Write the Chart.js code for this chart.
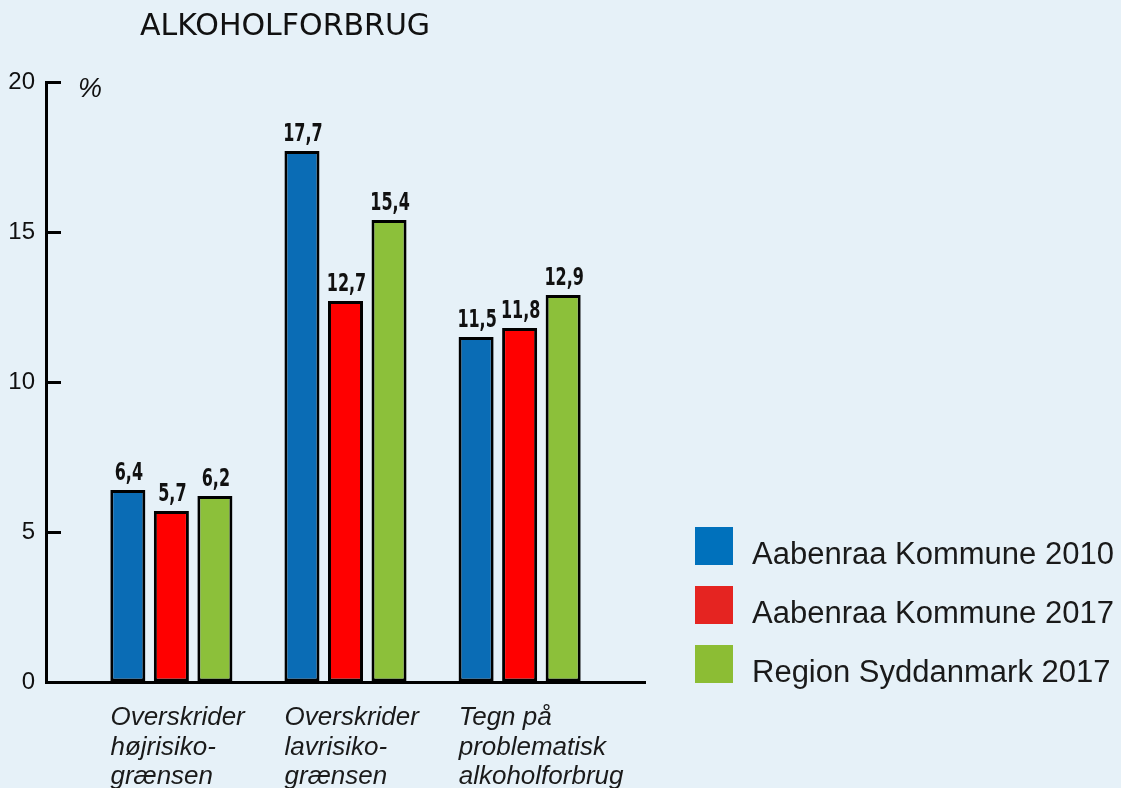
<!DOCTYPE html>
<html>
<head>
<meta charset="utf-8">
<title>Alkoholforbrug</title>
<script src="https://cdn.jsdelivr.net/npm/chart.js@4.4.1/dist/chart.umd.min.js"></script>
<style>
  html, body { margin: 0; padding: 0; background: #e6f1f8; }
  #wrap { position: relative; width: 1121px; height: 788px; overflow: hidden; }
  #title {
    position: absolute; left: 140px; top: 10px;
    font: 30px/30px "DejaVu Sans", sans-serif; color: #111; white-space: nowrap;
  }
  .lg-box { position: absolute; left: 695px; width: 38px; height: 38px; }
  .lg-text {
    position: absolute; left: 752px;
    font: 31px/31px "Liberation Sans", Arial, sans-serif; color: #1a1a1a; white-space: nowrap;
  }
</style>
</head>
<body>
<div id="wrap">
  <canvas id="myChart" width="1121" height="788"></canvas>
  <div id="title">ALKOHOLFORBRUG</div>
  <div id="legend"></div>
</div>
<script>
// data
var categories = [
  ['Overskrider', 'højrisiko-', 'grænsen'],
  ['Overskrider', 'lavrisiko-', 'grænsen'],
  ['Tegn på', 'problematisk', 'alkoholforbrug']
];
var seriesNames = ['Aabenraa Kommune 2010', 'Aabenraa Kommune 2017', 'Region Syddanmark 2017'];
var aabenraa2010 = [6.4, 17.7, 11.5];
var aabenraa2017 = [5.7, 12.7, 11.8];
var syddanmark2017 = [6.2, 15.4, 12.9];
var yTicks = [0, 5, 10, 15, 20];

var barColors = ['#0a6cb5', '#ff0000', '#8cc03a'];
var legendColors = ['#0071bc', '#e52421', '#8cbd34'];

function toPoints(values) {
  return values.map(function (v, i) { return { x: i + 1, y: v }; });
}

var seriesValues = [aabenraa2010, aabenraa2017, syddanmark2017];
var datasets = seriesValues.map(function (vals, i) {
  return {
    label: seriesNames[i],
    data: toPoints(vals),
    backgroundColor: barColors[i],
    borderColor: '#000',
    borderWidth: 3,
    borderSkipped: false,
    categoryPercentage: 0.75,
    barPercentage: 0.805
  };
});

// value labels on top of bars + the "%" unit
var barValueLabels = {
  id: 'barValueLabels',
  afterDatasetsDraw: function (chart) {
    var ctx = chart.ctx;
    ctx.save();
    ctx.fillStyle = '#111';
    ctx.textAlign = 'center';
    ctx.textBaseline = 'alphabetic';
    ctx.font = 'bold 24px "DejaVu Sans Condensed", "DejaVu Sans", sans-serif';
    chart.data.datasets.forEach(function (ds, i) {
      chart.getDatasetMeta(i).data.forEach(function (bar, j) {
        var txt = ds.data[j].y.toFixed(1).replace('.', ',');
        ctx.save();
        ctx.translate(bar.x + 1, bar.y - 10);
        ctx.scale(0.74, 1);  // the original face is much narrower
        ctx.fillText(txt, 0, 0);
        ctx.restore();
      });
    });
    var yScale = chart.scales.y;
    ctx.textAlign = 'left';
    ctx.font = 'italic 27px "Liberation Sans", Arial, sans-serif';
    ctx.fillText('%', chart.chartArea.left + 32, yScale.getPixelForValue(20) + 15);
    ctx.restore();
  }
};

var ctx = document.getElementById('myChart').getContext('2d');
var myChart = new Chart(ctx, {
  type: 'bar',
  data: { datasets: datasets },
  plugins: [barValueLabels],
  options: {
    responsive: false,
    animation: false,
    layout: { padding: { top: 82, right: 476, bottom: 0, left: 0 } },
    plugins: {
      legend: { display: false },
      tooltip: { enabled: false }
    },
    scales: {
      x: {
        type: 'linear',
        offset: false,
        min: 0.28,
        max: 3.72,
        afterBuildTicks: function (scale) {
          scale.ticks = categories.map(function (c, i) { return { value: i + 1 - 0.35 }; });
        },
        afterFit: function (scale) { scale.height = 106; },
        grid: { display: false, drawTicks: false, offset: false },
        border: { display: true, color: '#000', width: 3 },
        ticks: {
          align: 'start',
          autoSkip: false,
          maxRotation: 0,
          padding: 21,
          color: '#1a1a1a',
          font: { family: '"Liberation Sans", Arial, sans-serif', size: 26, style: 'italic', lineHeight: 1.14 },
          callback: function (value, index) { return categories[index]; }
        }
      },
      y: {
        min: 0,
        max: 20,
        afterBuildTicks: function (scale) {
          scale.ticks = yTicks.map(function (v) { return { value: v }; });
        },
        afterFit: function (scale) { scale.width = 46; },
        grid: { display: true, drawOnChartArea: false, drawTicks: true, tickLength: -15, tickWidth: 3, tickColor: '#000' },
        border: { display: true, color: '#000', width: 3 },
        ticks: {
          padding: 26,
          color: '#111',
          font: { family: '"Liberation Sans", Arial, sans-serif', size: 24 }
        }
      }
    }
  }
});

// legend
var legend = document.getElementById('legend');
seriesNames.forEach(function (name, i) {
  var box = document.createElement('div');
  box.className = 'lg-box';
  box.style.top = (527 + i * 59) + 'px';
  box.style.background = legendColors[i];
  legend.appendChild(box);
  var txt = document.createElement('div');
  txt.className = 'lg-text';
  txt.style.top = (538 + i * 59) + 'px';
  txt.textContent = name;
  legend.appendChild(txt);
});
</script>
</body>
</html>
